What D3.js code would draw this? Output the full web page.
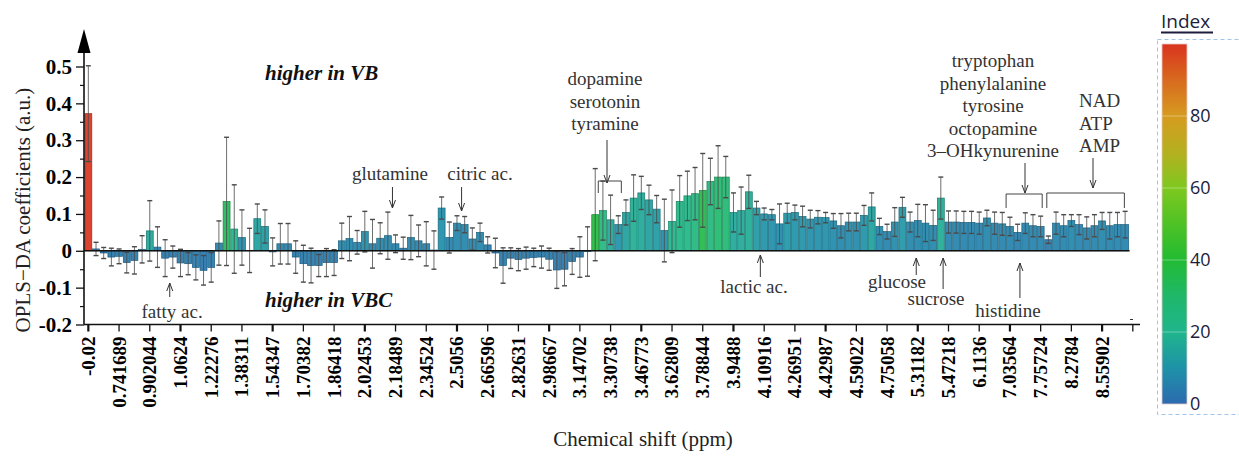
<!DOCTYPE html>
<html>
<head>
<meta charset="utf-8">
<script src="https://cdn.jsdelivr.net/npm/d3@7"></script>
<style>
  body { margin: 0; background: #fff; }
  svg { display: block; }
</style>
</head>
<body>
<div id="chart"></div>
<script>
// tick labels (every 4th bin, chemical shift in ppm)
var tickLabels = ["-0.02","0.741689","0.902044","1.0624","1.22276","1.38311","1.54347","1.70382",
  "1.86418","2.02453","2.18489","2.34524","2.5056","2.66596","2.82631","2.98667","3.14702",
  "3.30738","3.46773","3.62809","3.78844","3.9488","4.10916","4.26951","4.42987","4.59022",
  "4.75058","5.31182","5.47218","6.1136","7.03564","7.75724","8.2784","8.55902"];

// OPLS-DA coefficient per bin
var coefs = [0.372,0.005,-0.006,-0.017,-0.015,-0.032,-0.026,0.004,0.054,0.010,
  -0.020,-0.017,-0.033,-0.035,-0.045,-0.053,-0.045,0.021,0.134,0.059,
  0.036,0.001,0.087,0.066,-0.003,0.019,0.019,-0.017,-0.035,-0.040,
  -0.040,-0.032,-0.032,0.027,0.033,0.023,0.052,0.019,0.034,0.041,
  0.019,0.007,0.036,0.027,0.019,0.002,0.116,0.036,0.075,0.071,
  0.032,0.050,0.016,-0.006,-0.040,-0.020,-0.024,-0.020,-0.018,-0.017,
  -0.023,-0.052,-0.050,-0.029,-0.017,-0.002,0.098,0.109,0.084,0.071,
  0.104,0.143,0.157,0.138,0.113,0.055,0.080,0.134,0.149,0.155,
  0.164,0.188,0.200,0.200,0.104,0.109,0.160,0.116,0.100,0.098,
  0.073,0.102,0.104,0.093,0.086,0.091,0.090,0.081,0.068,0.078,
  0.078,0.096,0.119,0.066,0.052,0.078,0.118,0.078,0.082,0.075,
  0.069,0.143,0.078,0.078,0.077,0.077,0.075,0.089,0.075,0.073,
  0.066,0.050,0.075,0.068,0.066,0.030,0.075,0.068,0.082,0.071,
  0.062,0.068,0.081,0.068,0.071,0.071];

// error (half width)
var errs = [0.13,0.018,0.015,0.024,0.02,0.028,0.037,0.037,0.082,0.055,
  0.05,0.03,0.037,0.03,0.034,0.04,0.04,0.06,0.174,0.12,
  0.075,0.06,0.04,0.045,0.038,0.055,0.055,0.044,0.05,0.047,
  0.03,0.038,0.035,0.048,0.06,0.032,0.055,0.066,0.042,0.064,
  0.024,0.03,0.06,0.043,0.06,0.052,0.03,0.042,0.02,0.022,
  0.03,0.025,0.022,0.04,0.048,0.028,0.03,0.03,0.025,0.03,
  0.03,0.05,0.045,0.035,0.055,0.067,0.125,0.08,0.067,0.024,
  0.034,0.063,0.045,0.04,0.037,0.085,0.085,0.07,0.067,0.071,
  0.1,0.063,0.085,0.056,0.053,0.064,0.045,0.018,0.016,0.014,
  0.054,0.027,0.02,0.028,0.024,0.018,0.014,0.02,0.033,0.024,
  0.024,0.027,0.038,0.022,0.02,0.039,0.027,0.027,0.044,0.05,
  0.041,0.057,0.03,0.03,0.03,0.03,0.03,0.021,0.03,0.031,
  0.025,0.022,0.028,0.03,0.028,0.01,0.03,0.03,0.016,0.027,
  0.03,0.03,0.023,0.036,0.033,0.036];

// colour index per bin
var colorIndex = [100,3,3,4,4,4,4,3,16,5,
  4,4,4,4,4,3,4,6,33,20,
  8,3,14,12,3,6,6,4,4,4,
  4,4,4,7,7,6,9,6,7,7,
  6,4,7,6,6,3,9,6,7,7,
  6,7,5,3,4,4,4,4,4,4,
  4,3,3,4,4,3,38,24,16,10,
  14,18,16,14,12,9,20,22,22,24,
  36,26,30,28,16,16,17,12,10,9,
  8,11,10,10,9,9,9,8,7,8,
  8,10,14,7,6,8,11,7,7,7,
  7,17,6,6,6,6,6,7,6,6,
  6,5,6,6,6,4,6,6,7,6,
  6,6,7,6,6,6];

var colorStops = [[0,"#2c6aaf"],[10,"#1e92a8"],[20,"#1fb58c"],[30,"#1fb86a"],[40,"#22bb33"],
  [50,"#4ec225"],[60,"#7ec81f"],[70,"#b5b01f"],[80,"#d69b1f"],[90,"#d86a1f"],[100,"#d9341d"]];
var legendTicks = [0, 20, 40, 60, 80];

var svgWidth = 1239, svgHeight = 456;
var nCat = tickLabels.length * 4 + 1;   // one empty slot at the end (last tick)
var serif = "'Liberation Serif','Times New Roman',serif";

var svg = d3.select("#chart").append("svg")
  .attr("width", svgWidth)
  .attr("height", svgHeight);

var x = d3.scaleBand()
  .domain(d3.range(nCat))
  .range([84.5, 84.5 + nCat * 7.68])
  .paddingInner(0.1)
  .paddingOuter(0.05);

var y = d3.scaleLinear().domain([-0.2, 0.5]).range([324.5, 66.5]);

var color = d3.scaleLinear()
  .domain(colorStops.map(function(d) { return d[0]; }))
  .range(colorStops.map(function(d) { return d[1]; }));

function cx(i) { return x(0) + x.step() * i + x.bandwidth() / 2; }

// bars
var bars = svg.append("g");
bars.selectAll("rect")
  .data(coefs)
  .enter()
  .append("rect")
  .attr("x", function(d, i) { return x(i); })
  .attr("width", x.bandwidth())
  .attr("y", function(d) { return y(Math.max(0, d)); })
  .attr("height", function(d) { return Math.abs(y(d) - y(0)); })
  .attr("fill", function(d, i) { return color(colorIndex[i]); })
  .attr("fill-opacity", 0.92)
  .attr("stroke", function(d, i) { return d3.color(color(colorIndex[i])).darker(0.9); })
  .attr("stroke-width", 0.7);

// error bars
var eb = svg.append("g").attr("stroke", "#4a4a4a");
coefs.forEach(function(d, i) {
  var hi = y(d + errs[i]), lo = y(d - errs[i]), c = cx(i);
  eb.append("line").attr("x1", c).attr("x2", c).attr("y1", hi).attr("y2", lo)
    .attr("stroke-width", 1).attr("stroke-opacity", 0.8);
  [hi, lo].forEach(function(v) {
    eb.append("line").attr("x1", c - 2.5).attr("x2", c + 2.5).attr("y1", v).attr("y2", v)
      .attr("stroke-width", 1.4);
  });
});

// zero line
svg.append("line")
  .attr("x1", 84).attr("x2", x(coefs.length - 1) + x.bandwidth() + 1)
  .attr("y1", y(0)).attr("y2", y(0))
  .attr("stroke", "#111").attr("stroke-width", 1.4);

// x axis
var xAxis = d3.axisBottom(x)
  .tickValues(d3.range(0, nCat, 4))
  .tickSize(7)
  .tickSizeOuter(0)
  .tickFormat(function(d) { return tickLabels[d / 4] || ""; });

var gx = svg.append("g")
  .attr("transform", "translate(0," + y(-0.2) + ")")
  .call(xAxis);
gx.select(".domain").attr("d", "M84,0H1140").attr("stroke", "#111").attr("stroke-width", 1.3);
gx.selectAll(".tick line").attr("stroke", "#111").attr("stroke-width", function(d, k) { return k % 3 === 0 ? 2.2 : 1.3; });
gx.selectAll("text")
  .attr("transform", "rotate(-90)")
  .attr("text-anchor", "end")
  .attr("x", -12)
  .attr("y", 0)
  .attr("dy", "0.34em")
  .attr("font-family", serif)
  .attr("font-weight", "bold")
  .attr("font-size", 19)
  .attr("fill", "#000");

// y axis
var yAxis = d3.axisLeft(y)
  .tickValues([-0.2, -0.1, 0, 0.1, 0.2, 0.3, 0.4, 0.5])
  .tickSize(8)
  .tickPadding(4)
  .tickFormat(function(d) { return d === 0 ? "0" : d3.format(".1f")(d).replace("−", "-"); });

var gy = svg.append("g").attr("transform", "translate(84,0)").call(yAxis);
gy.select(".domain").remove();
gy.selectAll(".tick line").attr("stroke", "#111").attr("stroke-width", 1.3);
gy.selectAll("text")
  .attr("font-family", serif)
  .attr("font-weight", "bold")
  .attr("font-size", 21)
  .attr("fill", "#000");

var gyMinor = svg.append("g").attr("transform", "translate(84,0)")
  .call(d3.axisLeft(y).tickValues([-0.15, -0.05, 0.05, 0.15, 0.25, 0.35, 0.45]).tickSize(4).tickFormat(""));
gyMinor.select(".domain").remove();
gyMinor.selectAll(".tick line").attr("stroke", "#111").attr("stroke-width", 1.2);

svg.append("line").attr("x1", 84).attr("x2", 84).attr("y1", y(-0.2)).attr("y2", 48)
  .attr("stroke", "#111").attr("stroke-width", 1.6);
svg.append("path").attr("d", "M84,29L77.5,53L90.5,53Z").attr("fill", "#000");

// axis titles
svg.append("text")
  .attr("transform", "translate(30,210) rotate(-90)")
  .attr("text-anchor", "middle")
  .attr("font-family", serif).attr("font-size", 21).attr("fill", "#222")
  .text("OPLS\u2212DA coefficients (a.u.)");

svg.append("text")
  .attr("x", 643).attr("y", 446)
  .attr("text-anchor", "middle")
  .attr("font-family", serif).attr("font-size", 21).attr("fill", "#222")
  .text("Chemical shift (ppm)");

// region labels
svg.append("text").attr("x", 265).attr("y", 80)
  .attr("font-family", serif).attr("font-size", 21).attr("font-weight", "bold").attr("font-style", "italic")
  .attr("fill", "#111").text("higher in VB");
svg.append("text").attr("x", 265).attr("y", 307)
  .attr("font-family", serif).attr("font-size", 21).attr("font-weight", "bold").attr("font-style", "italic")
  .attr("fill", "#111").text("higher in VBC");

// annotations
var ann = svg.append("g").attr("font-family", serif).attr("font-size", 19).attr("fill", "#333");

function arrow(xp, y1, y2) {
  var dir = y2 > y1 ? -1 : 1;
  ann.append("line").attr("x1", xp).attr("x2", xp).attr("y1", y1).attr("y2", y2)
    .attr("stroke", "#333").attr("stroke-width", 1);
  ann.append("path")
    .attr("d", "M" + (xp - 3) + "," + (y2 + dir * 8) + "L" + xp + "," + y2 + "L" + (xp + 3) + "," + (y2 + dir * 8))
    .attr("fill", "none").attr("stroke", "#333").attr("stroke-width", 1);
}
function bracket(xa, xb, yt, yb) {
  ann.append("path")
    .attr("d", "M" + xa + "," + yb + "V" + yt + "H" + xb + "V" + yb)
    .attr("fill", "none").attr("stroke", "#444").attr("stroke-width", 1);
}
function label(lines, xp, y0, anchor) {
  lines.forEach(function(t, k) {
    ann.append("text").attr("x", xp).attr("y", y0 + k * 22.5)
      .attr("text-anchor", anchor || "middle").text(t);
  });
}

label(["fatty ac."], cx(10.9), 318);
arrow(cx(10.6), 297, 283);
label(["glutamine"], 390, 180);
arrow(cx(39.6), 187, 208);
label(["citric ac."], 480, 180);
arrow(cx(48.6), 187, 211);
label(["dopamine", "serotonin", "tyramine"], 605, 85);
arrow(607, 140, 183);
bracket(cx(66.4), cx(69.4), 181, 193);
label(["lactic ac."], 754, 293);
arrow(cx(87.5), 277, 255);
label(["glucose"], 897, 288);
arrow(cx(107.8), 275, 258);
label(["sucrose"], 936, 305);
arrow(cx(111.3), 289, 258);
label(["histidine"], 1008, 317);
arrow(cx(121.3), 298, 263);
label(["tryptophan", "phenylalanine", "tyrosine", "octopamine", "3\u2013OHkynurenine"], 993, 67);
arrow(1025, 163, 193);
bracket(cx(119.5), cx(124.2), 194, 208);
label(["NAD", "ATP", "AMP"], 1079, 107, "start");
arrow(1093, 158, 188);
bracket(cx(124.8), cx(134.9), 193, 208);

svg.append("line").attr("x1", 1130).attr("x2", 1133).attr("y1", 319.5).attr("y2", 319.5)
  .attr("stroke", "#333").attr("stroke-width", 1);

// colour bar legend
var cy = d3.scaleLinear().domain([0, 100]).range([404, 44]);
var defs = svg.append("defs");
var grad = defs.append("linearGradient").attr("id", "cbar")
  .attr("x1", 0).attr("y1", 1).attr("x2", 0).attr("y2", 0);
grad.selectAll("stop").data(colorStops).enter().append("stop")
  .attr("offset", function(d) { return d[0] + "%"; })
  .attr("stop-color", function(d) { return d[1]; });

svg.append("rect").attr("x", 1157.5).attr("y", 39.5).attr("width", 100).attr("height", 375)
  .attr("fill", "none").attr("stroke", "#9fc4e8").attr("stroke-dasharray", "4,3").attr("stroke-width", 1);

svg.append("rect").attr("x", 1162).attr("y", cy(100)).attr("width", 25).attr("height", cy(0) - cy(100))
  .attr("fill", "url(#cbar)").attr("stroke", "#e8c8c8").attr("stroke-width", 0.8);

var gl = svg.append("g");
gl.selectAll("line").data(legendTicks.slice(1)).enter().append("line")
  .attr("x1", 1162).attr("x2", 1187)
  .attr("y1", function(d) { return cy(d); }).attr("y2", function(d) { return cy(d); })
  .attr("stroke", "#fff").attr("stroke-opacity", 0.35).attr("stroke-width", 1);
gl.selectAll("text").data(legendTicks).enter().append("text")
  .attr("x", 1190).attr("y", function(d) { return cy(d); })
  .attr("dy", "0.36em")
  .attr("font-family", "'Open Sans','Noto Sans',sans-serif").attr("font-size", 18)
  .attr("fill", "#1c1c3c")
  .text(function(d) { return d; });

svg.append("text").attr("x", 1161).attr("y", 28)
  .attr("font-family", "'Open Sans','Noto Sans',sans-serif").attr("font-size", 19)
  .attr("fill", "#1c1c3c").text("Index");
svg.append("line").attr("x1", 1161).attr("x2", 1213).attr("y1", 32.5).attr("y2", 32.5)
  .attr("stroke", "#1c1c3c").attr("stroke-width", 2);
</script>
</body>
</html>
